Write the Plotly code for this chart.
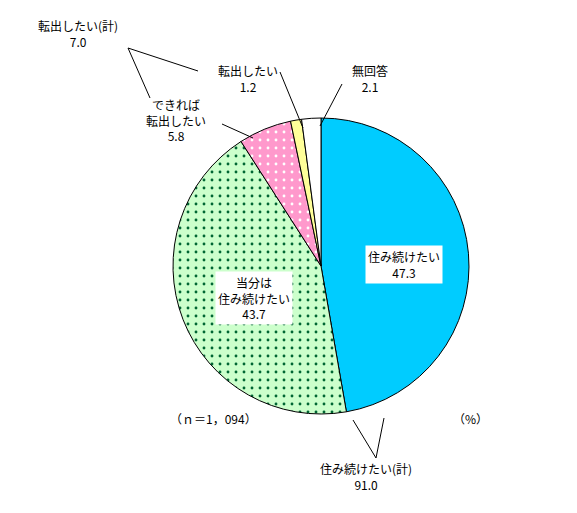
import plotly.graph_objects as go

labels = ["住み続けたい", "当分は住み続けたい", "できれば転出したい", "転出したい", "無回答"]
values = [47.3, 43.7, 5.8, 1.2, 2.1]
colors = ["#00CCFF", "#CCFFCC", "#FF99CC", "#FFFF99", "#FFFFFF"]

W, H = 577, 513
def px(x): return x / W
def py(y): return 1 - y / H

fig = go.Figure(go.Pie(
    labels=labels, values=values, sort=False, direction="clockwise", rotation=0,
    textinfo="none", hoverinfo="label+value",
    marker=dict(colors=colors, line=dict(color="black", width=1),
                pattern=dict(shape=["", ".", ".", "", ""],
                             fgcolor=["#00CCFF", "#006633", "#FFFFFF", "#FFFF99", "#FFFFFF"],
                             bgcolor=colors, fillmode="replace",
                             size=8, solidity=0.1)),
    domain=dict(x=[px(165), px(461)], y=[py(406), py(110)]),
    showlegend=False,
))

ann = [
    ("転出したい(計)<br>7.0", 70, 25, False),
    ("転出したい<br>1.2", 240, 70, False),
    ("無回答<br>2.1", 362, 70, False),
    ("できれば<br>転出したい<br>5.8", 168, 112, False),
    ("住み続けたい<br>47.3", 396, 256, True),
    ("当分は<br>住み続けたい<br>43.7", 246, 290, True),
    ("（ｎ＝1，094）", 205, 410, False),
    ("（%）", 462, 410, False),
    ("住み続けたい(計)<br>91.0", 358, 468, False),
]
for t, x, y, box in ann:
    fig.add_annotation(x=px(x), y=py(y), xref="paper", yref="paper", text=t, showarrow=False,
                       xanchor="center", yanchor="middle",
                       font=dict(size=12, color="black"),
                       bgcolor="white" if box else None, borderpad=2)

lines = [
    (120, 40, 190, 63), (120, 40, 142, 90),
    (272, 64, 295, 120), (334, 76, 312, 118),
    (214, 116, 245, 130),
    (368, 450, 345, 412), (368, 450, 376, 410),
]
for x0, y0, x1, y1 in lines:
    fig.add_shape(type="line", xref="paper", yref="paper", x0=px(x0), y0=py(y0), x1=px(x1), y1=py(y1),
                  line=dict(color="black", width=1))

fig.update_layout(width=W, height=H, margin=dict(l=0, r=0, t=0, b=0), paper_bgcolor="white",
                  font=dict(family="Noto Sans CJK JP"))
fig.write_html("out.html")
